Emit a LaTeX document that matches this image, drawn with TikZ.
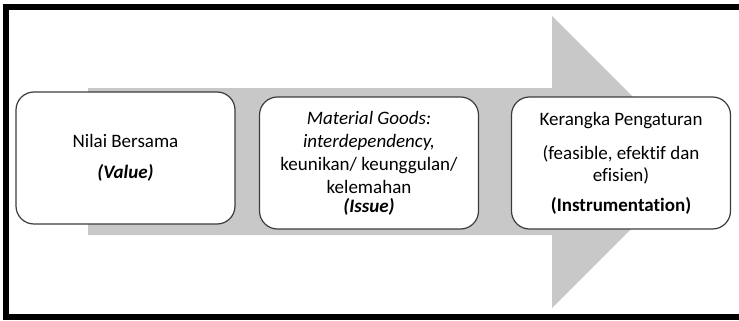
\documentclass[tikz,border=0pt]{standalone}
\usepackage{fontspec}
\setmainfont{Carlito}[Ligatures=NoCommon]
\usetikzlibrary{positioning}
\definecolor{arrowgray}{RGB}{200,200,200}
\definecolor{boxline}{RGB}{60,60,60}

\begin{document}
\begin{tikzpicture}[x=1pt, y=-1pt, on grid, font=\fontsize{19}{23}\selectfont]
  \tikzstyle{stage}=[draw=boxline, fill=white, line width=1.2pt, rounded corners=18pt, minimum width=219pt, minimum height=132pt, align=center, inner sep=0pt]
  \useasboundingbox (0,0) rectangle (739,321);
  % big arrow behind the boxes
  \fill[arrowgray] (88,88) -- (552,88) -- (552,16) -- (698,162) -- (552,308) -- (552,235) -- (88,235) -- cycle;
  % frame, open on the right
  \draw[line width=6.5pt] (739,7) -- (6,7) -- (6,317) -- (739,317);
  \node[stage] (value) at (125.5,158) {Nilai Bersama\\[8pt] \textbf{\textit{(Value)}}};
  \node[stage] (issue) [below right = 5pt and 243.5pt of value] {{\itshape Material Goods:}\\ {\itshape interdependency,}\\ keunikan/ keunggulan/\\ kelemahan\\[-4pt] \textbf{\textit{(Issue)}}};
  \node[stage] (instr) [right = 252pt of issue] {Kerangka Pengaturan\\[11pt] (feasible, efektif dan\\[-1pt] efisien)\\[7pt] \textbf{(Instrumentation)}};
\end{tikzpicture}
\end{document}
